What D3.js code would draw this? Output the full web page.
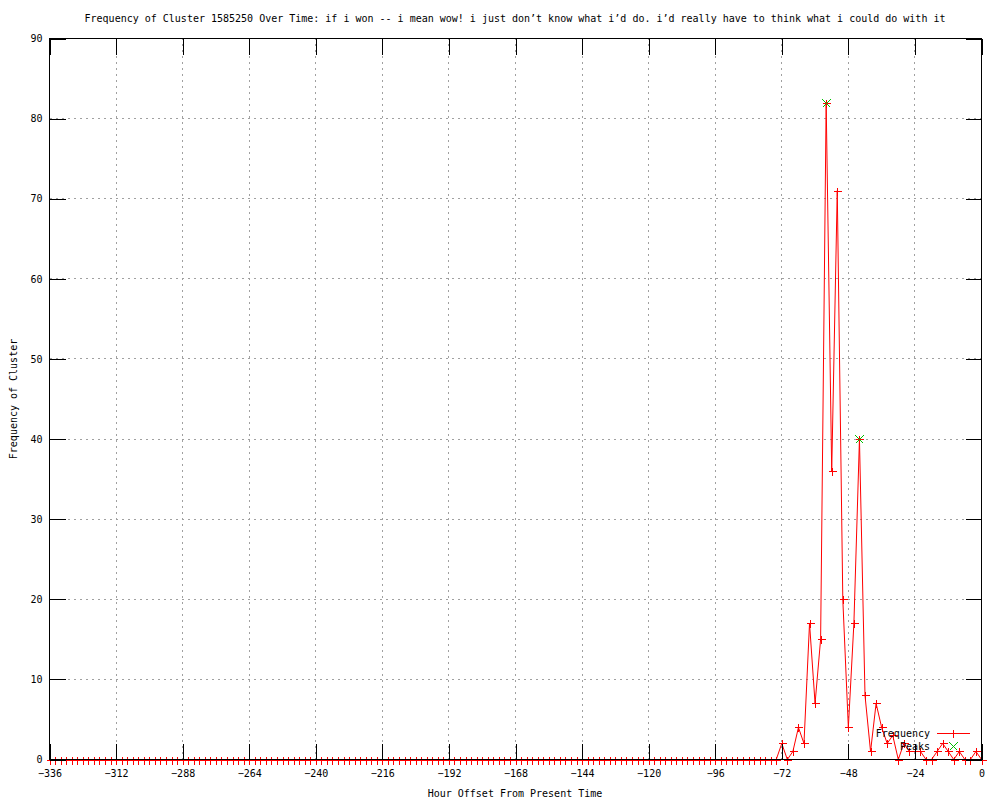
<!DOCTYPE html>
<html>
<head>
<meta charset="utf-8">
<script src="https://cdn.jsdelivr.net/npm/d3@7"></script>
<style>
    body { margin: 0; background: #fff; }
    svg text { font-family: "DejaVu Sans Mono", monospace; font-size: 10px; fill: #000; }
</style>
</head>
<body>
<div id="svg"></div>
<script>
// hour offsets, one sample every 2 hours
const hours = [
    -336, -334, -332, -330, -328, -326, -324, -322, -320, -318, -316, -314,
    -312, -310, -308, -306, -304, -302, -300, -298, -296, -294, -292, -290,
    -288, -286, -284, -282, -280, -278, -276, -274, -272, -270, -268, -266,
    -264, -262, -260, -258, -256, -254, -252, -250, -248, -246, -244, -242,
    -240, -238, -236, -234, -232, -230, -228, -226, -224, -222, -220, -218,
    -216, -214, -212, -210, -208, -206, -204, -202, -200, -198, -196, -194,
    -192, -190, -188, -186, -184, -182, -180, -178, -176, -174, -172, -170,
    -168, -166, -164, -162, -160, -158, -156, -154, -152, -150, -148, -146,
    -144, -142, -140, -138, -136, -134, -132, -130, -128, -126, -124, -122,
    -120, -118, -116, -114, -112, -110, -108, -106, -104, -102, -100, -98,
    -96, -94, -92, -90, -88, -86, -84, -82, -80, -78, -76, -74,
    -72, -70, -68, -66, -64, -62, -60, -58, -56, -54, -52, -50,
    -48, -46, -44, -42, -40, -38, -36, -34, -32, -30, -28, -26,
    -24, -22, -20, -18, -16, -14, -12, -10, -8, -6, -4, -2, 0
];
const frequency = [
    0, 0, 0, 0, 0, 0, 0, 0, 0, 0, 0, 0,
    0, 0, 0, 0, 0, 0, 0, 0, 0, 0, 0, 0,
    0, 0, 0, 0, 0, 0, 0, 0, 0, 0, 0, 0,
    0, 0, 0, 0, 0, 0, 0, 0, 0, 0, 0, 0,
    0, 0, 0, 0, 0, 0, 0, 0, 0, 0, 0, 0,
    0, 0, 0, 0, 0, 0, 0, 0, 0, 0, 0, 0,
    0, 0, 0, 0, 0, 0, 0, 0, 0, 0, 0, 0,
    0, 0, 0, 0, 0, 0, 0, 0, 0, 0, 0, 0,
    0, 0, 0, 0, 0, 0, 0, 0, 0, 0, 0, 0,
    0, 0, 0, 0, 0, 0, 0, 0, 0, 0, 0, 0,
    0, 0, 0, 0, 0, 0, 0, 0, 0, 0, 0, 0,
    2, 0, 1, 4, 2, 17, 7, 15, 82, 36, 71, 20,
    4, 17, 40, 8, 1, 7, 4, 2, 3, 0, 2, 1,
    1, 1, 0, 0, 1, 2, 1, 0, 1, 0, 0, 1, 0
];
const peakHours = [-56, -44];
const peakValues = [82, 40];

const xTicks = [-336, -312, -288, -264, -240, -216, -192, -168, -144, -120, -96, -72, -48, -24, 0];
const yTicks = [0, 10, 20, 30, 40, 50, 60, 70, 80, 90];

const titleText = "Frequency of Cluster 1585250 Over Time: if i won -- i mean wow! i just don’t know what i’d do. i’d really have to think what i could do with it";

const plusPath = "M-4,0H4M0,-4V4";
const crossPath = "M-4,-4L4,4M-4,4L4,-4";

let svg = d3.select("#svg")
    .append("svg")
    .attr("width", 1000)
    .attr("height", 800);

let plotLeft = 49.5, plotRight = 981.5, plotTop = 38.5, plotBottom = 759.5;

let xAxis = d3.scaleLinear().domain([-336, 0]).range([plotLeft, plotRight]);
let yAxis = d3.scaleLinear().domain([0, 90]).range([plotBottom, plotTop]);

// dotted grid, skip the border positions
let grid = svg.append("g")
    .style("stroke", "#a0a0a0")
    .style("stroke-dasharray", "2,4")
    .attr("shape-rendering", "crispEdges");
grid.selectAll(".gx")
    .data(xTicks.slice(1, -1))
    .enter().append("line")
    .attr("x1", d => xAxis(d)).attr("x2", d => xAxis(d))
    .attr("y1", plotBottom).attr("y2", plotTop);
grid.selectAll(".gy")
    .data(yTicks.slice(1, -1))
    .enter().append("line")
    .attr("x1", plotLeft).attr("x2", plotRight)
    .attr("y1", d => yAxis(d)).attr("y2", d => yAxis(d));

// frequency line
let points = hours.map((h, i) => ({x: h, y: frequency[i]}));
let d3line = d3.line()
    .x(d => xAxis(d.x))
    .y(d => yAxis(d.y))
    .curve(d3.curveLinear);

svg.append("path")
    .attr("d", d3line(points))
    .style("stroke", "#ff0000")
    .style("stroke-width", 1)
    .style("fill", "none");

svg.selectAll(".pt")
    .data(points)
    .enter().append("path")
    .attr("d", plusPath)
    .attr("transform", d => "translate(" + (Math.round(xAxis(d.x)) + 0.5) + "," + (Math.round(yAxis(d.y)) + 0.5) + ")")
    .style("stroke", "#ff0000")
    .style("fill", "none")
    .attr("shape-rendering", "crispEdges");

// peaks
svg.selectAll(".peak")
    .data(peakHours.map((h, i) => ({x: h, y: peakValues[i]})))
    .enter().append("path")
    .attr("d", crossPath)
    .attr("transform", d => "translate(" + (Math.round(xAxis(d.x)) + 0.5) + "," + (Math.round(yAxis(d.y)) + 0.5) + ")")
    .style("stroke", "#00c000")
    .style("fill", "none")
    .attr("shape-rendering", "crispEdges");

// axes with inward ticks on all four sides
let axes = [
    [d3.axisBottom(xAxis).tickValues(xTicks).tickPadding(10), "translate(0," + plotBottom + ")"],
    [d3.axisTop(xAxis).tickValues(xTicks).tickFormat(""), "translate(0," + plotTop + ")"],
    [d3.axisLeft(yAxis).tickValues(yTicks).tickPadding(7), "translate(" + plotLeft + ",0)"],
    [d3.axisRight(yAxis).tickValues(yTicks).tickFormat(""), "translate(" + plotRight + ",0)"]
];
axes.forEach(([axis, tr]) => {
    let g = svg.append("g")
        .attr("transform", tr)
        .call(axis.tickSize(-16).tickSizeOuter(0));
    g.select(".domain").remove();
    g.selectAll(".tick line").attr("stroke", "#000").attr("shape-rendering", "crispEdges");
    g.attr("font-family", null).attr("font-size", null);
});

svg.append("rect")
    .attr("x", plotLeft).attr("y", plotTop)
    .attr("width", plotRight - plotLeft).attr("height", plotBottom - plotTop)
    .attr("fill", "none")
    .attr("stroke", "#000")
    .attr("shape-rendering", "crispEdges");

// titles
svg.append("text")
    .attr("x", 515).attr("y", 18)
    .attr("text-anchor", "middle")
    .attr("dominant-baseline", "central")
    .text(titleText);

svg.append("text")
    .attr("x", 515).attr("y", 793)
    .attr("text-anchor", "middle")
    .attr("dominant-baseline", "central")
    .text("Hour Offset From Present Time");

svg.append("text")
    .attr("transform", "translate(13,399) rotate(-90)")
    .attr("text-anchor", "middle")
    .attr("dominant-baseline", "central")
    .text("Frequency of Cluster");

// legend
let key = svg.append("g");
key.append("text")
    .attr("x", 930).attr("y", 733)
    .attr("text-anchor", "end")
    .attr("dominant-baseline", "central")
    .text("Frequency");
key.append("path")
    .attr("d", "M937,733.5H970")
    .style("stroke", "#ff0000")
    .attr("shape-rendering", "crispEdges");
key.append("path")
    .attr("d", plusPath)
    .attr("transform", "translate(953.5,733.5)")
    .style("stroke", "#ff0000")
    .attr("shape-rendering", "crispEdges");
key.append("text")
    .attr("x", 930).attr("y", 746)
    .attr("text-anchor", "end")
    .attr("dominant-baseline", "central")
    .text("Peaks");
key.append("path")
    .attr("d", crossPath)
    .attr("transform", "translate(953.5,746.5)")
    .style("stroke", "#00c000")
    .style("fill", "none")
    .attr("shape-rendering", "crispEdges");
</script>
</body>
</html>
